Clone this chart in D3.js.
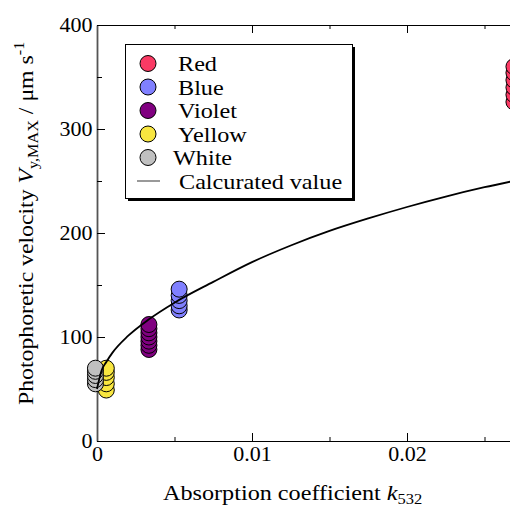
<!DOCTYPE html>
<html>
<head>
<meta charset="utf-8">
<script src="https://cdn.jsdelivr.net/npm/d3@7"></script>
<style>
  body { margin: 0; background: #fff; }
  svg text { font-family: "Liberation Serif", "Times New Roman", serif; fill: #000; }
</style>
</head>
<body>
<svg width="510" height="506"></svg>
<script>
// Series: absorption coefficient k532 and velocity (um/s)
var kRed = 0.0269,    vRed = [326, 333, 340, 347, 354, 360];
var kBlue = 0.0053,   vBlue = [126, 130, 135, 140, 146];
var kViolet = 0.00335, vViolet = [88, 92, 96, 100, 104, 108, 112];
var kYellow = 0.0006, vYellow = [49, 55, 61, 66, 70];
var kWhite = -0.0001, vWhite = [55, 59, 63, 67, 70];

// calculated curve, points
var kCurve = [0, 0.0003, 0.0006, 0.001, 0.002, 0.00335, 0.005, 0.0075, 0.01, 0.0125, 0.015, 0.0175, 0.02, 0.0225, 0.025, 0.0275, 0.03];
var vCurve = [50, 68, 76, 85, 101, 117, 133, 153, 172, 188, 202, 214, 225, 235, 244, 252, 260];

var legendNames = ["Red", "Blue", "Violet", "Yellow", "White"];
var legendColors = ["#fa3a64", "#8080ff", "#800080", "#f8e640", "#c0c0c0"];

var xMajor = [0, 0.01, 0.02];
var xMinor = [0.005, 0.015, 0.025];
var yMajor = [0, 100, 200, 300, 400];
var yMinor = [50, 150, 250, 350];

var svg = d3.select("svg");
var SX = 1.1; // glyphs in the picture are a bit wide

var x = d3.scaleLinear().domain([0, 0.03]).range([97, 562]);
var y = d3.scaleLinear().domain([0, 400]).range([441, 25]);

// top frame ticks
svg.append("g")
  .attr("transform", "translate(0," + y(400) + ")")
  .call(d3.axisTop(x).tickValues(xMajor).tickSize(-8).tickSizeOuter(0).tickFormat(""))
  .call(g => g.select(".domain").attr("stroke-width", 1.2));
svg.append("g")
  .attr("transform", "translate(0," + y(400) + ")")
  .call(d3.axisTop(x).tickValues(xMinor).tickSize(-4).tickFormat(""))
  .call(g => g.select(".domain").remove());

// x axis
var xg = svg.append("g")
  .attr("transform", "translate(0," + y(0) + ")")
  .call(d3.axisBottom(x).tickValues(xMajor).tickSize(-8).tickSizeOuter(0).tickPadding(6)
    .tickFormat(d => d === 0 ? "0" : d3.format(".2f")(d)));
xg.select(".domain").attr("stroke-width", 1.2);
xg.selectAll("text").attr("font-size", 20).attr("dy", "0.71em")
  .attr("transform", "scale(" + SX + ",1)");
svg.append("g")
  .attr("transform", "translate(0," + y(0) + ")")
  .call(d3.axisBottom(x).tickValues(xMinor).tickSize(-4).tickFormat(""))
  .call(g => g.select(".domain").remove());

// y axis
var yg = svg.append("g")
  .attr("transform", "translate(" + x(0) + ",0)")
  .call(d3.axisLeft(y).tickValues(yMajor).tickSize(-8).tickSizeOuter(0).tickPadding(4));
yg.select(".domain").attr("stroke", "#555").attr("stroke-width", 1.8);
yg.selectAll("text").attr("font-size", 20)
  .attr("transform", "scale(" + SX + ",1)");
svg.append("g")
  .attr("transform", "translate(" + x(0) + ",0)")
  .call(d3.axisLeft(y).tickValues(yMinor).tickSize(-5).tickFormat(""))
  .call(g => g.select(".domain").remove());

// points
var series = [
  {k: kRed, v: vRed, c: legendColors[0]},
  {k: kBlue, v: vBlue, c: legendColors[1]},
  {k: kViolet, v: vViolet, c: legendColors[2]},
  {k: kYellow, v: vYellow, c: legendColors[3]},
  {k: kWhite, v: vWhite, c: legendColors[4]}
];
series.forEach(s => {
  svg.append("g").selectAll("circle")
    .data(s.v)
    .enter().append("circle")
    .attr("cx", x(s.k))
    .attr("cy", d => y(d))
    .attr("r", 8)
    .attr("fill", s.c)
    .attr("stroke", "#000")
    .attr("stroke-width", 1);
});

// calculated curve
var line = d3.line()
  .x((d, i) => x(kCurve[i]))
  .y(d => y(d))
  .curve(d3.curveMonotoneX);
svg.append("path")
  .datum(vCurve)
  .attr("d", line)
  .attr("fill", "none")
  .attr("stroke", "#000")
  .attr("stroke-width", 1.8);

// legend
var lg = svg.append("g");
lg.append("rect").attr("x", 128).attr("y", 47).attr("width", 227).attr("height", 154).attr("fill", "#000");
lg.append("rect").attr("x", 125.5).attr("y", 44.5).attr("width", 227).attr("height", 154)
  .attr("fill", "#fff").attr("stroke", "#000").attr("stroke-width", 1);
var rowY = d3.scaleLinear().domain([0, 5]).range([63.5, 181]);
legendNames.forEach((name, i) => {
  lg.append("circle").attr("cx", 148).attr("cy", rowY(i)).attr("r", 8)
    .attr("fill", legendColors[i]).attr("stroke", "#000").attr("stroke-width", 1);
  lg.append("text")
    .attr("transform", "translate(" + (name === "White" ? 173 : 178) + "," + (rowY(i) + 7.5) + ") scale(" + SX + ",1)")
    .attr("font-size", 22)
    .text(name);
});
lg.append("line").attr("x1", 137).attr("x2", 160).attr("y1", rowY(5)).attr("y2", rowY(5))
  .attr("stroke", "#555").attr("stroke-width", 1.2);
lg.append("text")
  .attr("transform", "translate(179," + (rowY(5) + 7.5) + ") scale(" + SX + ",1)")
  .attr("font-size", 22)
  .text("Calcurated value");

// x title
var xt = svg.append("text")
  .attr("transform", "translate(163,500) scale(" + SX + ",1)")
  .attr("font-size", 22);
xt.append("tspan").text("Absorption coefficient ");
xt.append("tspan").attr("font-style", "italic").text("k");
xt.append("tspan").attr("font-size", 15).attr("dy", 4).text("532");

// y title
var yt = svg.append("text")
  .attr("transform", "translate(33,405) rotate(-90) scale(1.08,1)")
  .attr("font-size", 22);
yt.append("tspan").text("Photophoretic velocity ");
yt.append("tspan").attr("font-style", "italic").text("V");
yt.append("tspan").attr("font-size", 15).attr("dy", 5).text("y,MAX");
yt.append("tspan").attr("dy", -5).text(" / \u03bcm s");
yt.append("tspan").attr("font-size", 15).attr("dy", -9).text("-1");
</script>
</body>
</html>
